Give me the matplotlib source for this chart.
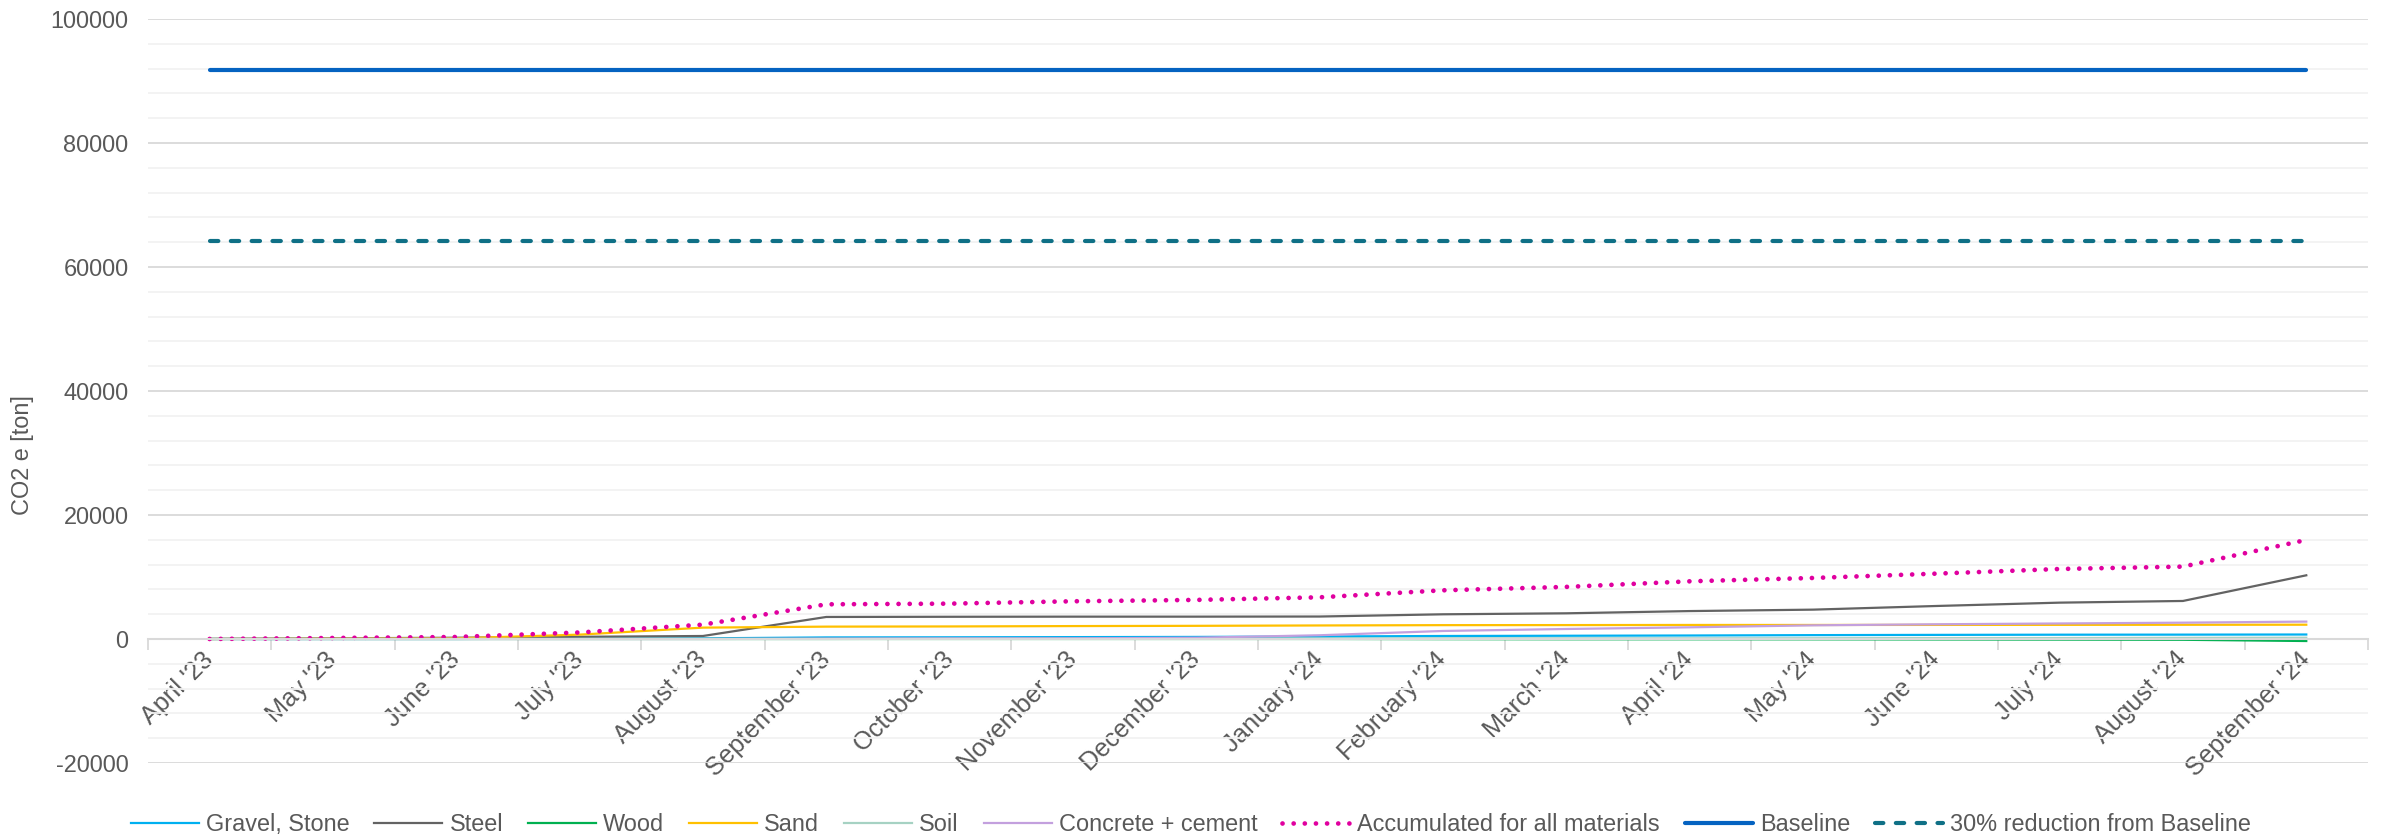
import numpy as np
import matplotlib
matplotlib.use("Agg")
import matplotlib.pyplot as plt
import matplotlib.transforms as mtransforms
from matplotlib.ticker import MultipleLocator

plt.rcParams['font.family'] = ['Liberation Sans', 'DejaVu Sans']
plt.rcParams['axes.unicode_minus'] = False

# ---------------------------------------------------------------- data
months = ["April '23", "May '23", "June '23", "July '23", "August '23",
          "September '23", "October '23", "November '23", "December '23",
          "January '24", "February '24", "March '24", "April '24", "May '24",
          "June '24", "July '24", "August '24", "September '24"]

gravel = [0, 0, 0, 50, 100, 250, 270, 300, 330, 400, 480, 520, 560, 620, 660, 690, 700, 720]
steel = [0, 100, 200, 350, 480, 3550, 3580, 3600, 3600, 3620, 3980, 4140, 4500, 4730, 5320, 5860, 6130, 10270]
wood = [0, 0, 0, 0, 0, 0, 0, 0, 0, 0, -30, -50, -50, -60, -80, -100, -130, -330]
sand = [0, 50, 100, 700, 1830, 1990, 2020, 2080, 2120, 2180, 2230, 2240, 2260, 2260, 2270, 2280, 2290, 2300]
soil = [0, 0, 0, 0, 0, 0, 50, 50, 50, 50, 100, 100, 100, 120, 150, 150, 180, 200]
concrete = [0, 0, 0, 0, 0, 50, 80, 100, 200, 600, 1290, 1610, 1880, 2200, 2370, 2500, 2630, 2800]
accumulated = [0, 160, 320, 1050, 2310, 5590, 5700, 6080, 6300, 6720, 7850, 8400, 9300, 9840, 10540, 11290, 11670, 15970]
baseline = [91700] * 18
reduction = [64190] * 18

# ---------------------------------------------------------------- plot
fig = plt.figure(figsize=(23.82, 8.4), dpi=100)
ax = fig.add_axes([0.0621, 0.0917, 0.9320, 0.8857])

x = np.arange(len(months))
grey_txt = '#595959'
fs = 16.9

ax.plot(x, gravel, color='#00B0F0', lw=1.6, label='Gravel, Stone')
ax.plot(x, steel, color='#636363', lw=1.6, label='Steel')
ax.plot(x, wood, color='#00B050', lw=1.6, label='Wood')
ax.plot(x, sand, color='#FFC000', lw=1.6, label='Sand')
ax.plot(x, soil, color='#A6D2C3', lw=1.6, label='Soil')
ax.plot(x, concrete, color='#C3A0DE', lw=1.6, label='Concrete + cement')
ax.plot(x, accumulated, color='#E0009F', lw=3.4, linestyle=(0, (0.01, 2.35)),
        dash_capstyle='round', label='Accumulated for all materials')
ax.plot(x, baseline, color='#0563C1', lw=3.0, solid_capstyle='round', label='Baseline')
ax.plot(x, reduction, color='#0F7086', lw=3.0, linestyle=(0, (2, 3)),
        dash_capstyle='round', label='30% reduction from Baseline')

ax.set_xlim(-0.5, len(months) - 0.5)
ax.set_ylim(-20000, 100000)

# y axis
ax.yaxis.set_major_locator(MultipleLocator(20000))
ax.yaxis.set_minor_locator(MultipleLocator(4000))
ax.grid(axis='y', which='major', color='#D9D9D9', lw=1.3)
ax.grid(axis='y', which='minor', color='#F2F2F2', lw=1.3)
ax.set_axisbelow(True)
ax.tick_params(axis='y', which='both', length=0, pad=14, labelsize=fs, labelcolor=grey_txt)
ax.set_ylabel('CO2 e [ton]', fontsize=fs, color=grey_txt)
ax.yaxis.set_label_coords(-0.0514, 0.414)

# x axis: boundaries as major ticks, labels on the category centres
ax.set_xticks(np.arange(-0.5, len(months), 1.0))
ax.set_xticklabels([])
ax.set_xticks(x, minor=True)
ax.set_xticklabels(months, minor=True)
ax.tick_params(axis='x', which='major', length=8, width=1.3, color='#D9D9D9')
ax.tick_params(axis='x', which='minor', length=0, pad=6, labelsize=18.3,
               labelcolor=grey_txt, labelrotation=45)

for s in ['left', 'right', 'top']:
    ax.spines[s].set_visible(False)
ax.spines['bottom'].set_position(('data', 0))
ax.spines['bottom'].set_color('#D9D9D9')
ax.spines['bottom'].set_linewidth(1.5)

leg = fig.legend(*ax.get_legend_handles_labels(), loc='center', ncol=9,
                 bbox_to_anchor=(0.5, 0.018), bbox_transform=fig.transFigure,
                 frameon=False, fontsize=fs, handlelength=2.9,
                 handletextpad=0.3, columnspacing=1.06)
for t in leg.get_texts():
    t.set_color(grey_txt)

fig.canvas.draw()
shift = mtransforms.ScaledTranslation(-6 / 72, 0, fig.dpi_scale_trans)
for lbl in ax.get_xticklabels(minor=True):
    lbl.set_ha('right')
    lbl.set_va('top')
    lbl.set_rotation_mode('anchor')
    lbl.set_transform(lbl.get_transform() + shift)

fig.savefig('out.png', dpi=100)
